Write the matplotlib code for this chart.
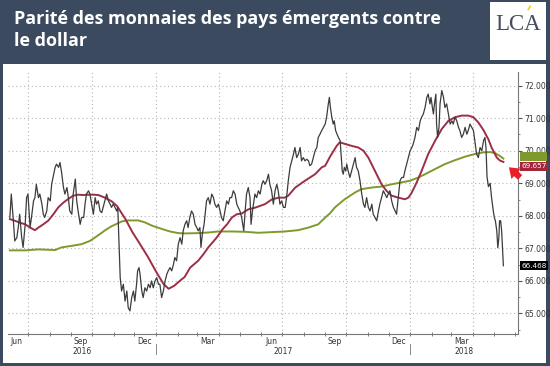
import numpy as np
import matplotlib.pyplot as plt
import matplotlib.dates as mdates
from matplotlib.patches import Rectangle
from matplotlib.transforms import blended_transform_factory
import datetime as dt

# days counted from 2016-07-01
start = dt.date(2016, 7, 1)

price_day = [-26, -24, -21, -19, -16, -14, -12, -9, -7, -4, -2, 0, 3, 5, 8, 10, 12, 15, 17, 20,
             22, 24, 27, 29, 32, 34, 36, 39, 41, 44, 46, 48, 51, 53, 56, 58, 60, 63, 65, 68,
             70, 72, 75, 77, 80, 82, 84, 87, 89,
             91.5, 94, 96.5, 98.5, 101, 103.5, 106, 108, 110.5, 113, 115.5, 118, 120, 122.5, 125,
             127.5, 129, 131, 132.5, 134.5, 137, 139.5, 142, 144, 146.5, 149, 151.5, 153.5, 156, 157.5,
             159.5, 161, 163.5, 165.5, 168, 170.5, 173, 175.5, 177.5, 180, 182.5, 185, 187.5, 189.5, 192,
             194.5, 197, 199.5, 201.5, 204,
             206.5, 209, 211, 213.5, 216, 218.5, 221, 223, 225.5, 228, 230, 232.5, 235, 237.5, 240,
             242.5, 244.5, 247, 248.5, 250.5, 253, 256.5, 259, 261.5, 264, 266.5, 268.5, 271, 273.5, 276,
             278, 280.5, 283, 285.5, 288, 290, 292.5, 295, 297.5, 300, 302, 304.5, 307, 310, 312,
             314, 316.5, 319,
             320.5, 322.5, 324, 326, 328.5, 331, 333.5, 336, 338, 340.5, 343, 345.5, 347.5, 350, 352.5,
             355, 357.5, 359.5, 362, 364.5, 367, 369.5, 371.5, 374, 376.5, 379, 381.5, 383.5, 386, 388.5,
             391, 393, 395.5, 398, 400.5, 403, 405, 407.5, 410, 412.5, 415, 417, 419.5, 422, 424.5,
             427, 429, 431.5, 433,
             434.5, 436.5, 438.5, 440, 442, 444, 446, 448.5, 449.5, 451.5, 453, 454.5, 456.5, 458, 460,
             462.5, 465, 467.5, 470, 472, 474.5, 477, 479.5, 482, 484, 486.5, 489, 491.5, 494, 496,
             498.5, 501, 503.5, 505.5, 508, 510.5, 513, 515.5, 517.5, 520, 522.5, 525, 527.5, 529.5, 532,
             534.5, 537, 539.5, 541.5, 544, 546.5, 549,
             551.5, 553.5, 556, 558.5, 561, 563.5, 565.5, 568, 570.5, 573, 575, 577.5, 579, 581, 582.5,
             584, 586, 587, 588.5, 590.5, 592, 594.5, 597, 599, 601.5, 604, 606.5, 609, 611, 613.5,
             616, 618.5, 620.5, 623, 625.5, 628, 630.5, 632.5, 635, 637.5, 640, 642.5, 644.5, 647, 649.5,
             652, 654.5, 656.5, 658, 659.5, 661.5, 664,
             666, 668.5, 670, 671.5, 673.5, 675, 676.5, 677.5, 679, 680.5, 682, 683]
price = [67.95, 68.67, 67.85, 67.23, 67.33, 67.64, 68.05, 67.33, 67.03, 67.74, 68.56, 68.67, 67.64, 67.95, 68.46,
         68.56, 68.97, 68.56, 68.67, 68.36, 68.05, 67.95, 68.15, 68.56, 68.46, 68.97, 69.18, 69.49, 69.59, 69.49,
         69.64, 69.38, 68.87, 68.67, 68.87, 68.56, 68.15, 68.05, 68.67, 69.13, 68.46, 68.15, 67.74, 67.95, 67.95,
         68.36, 68.67, 68.77, 68.67,
         68.36, 68.05, 68.56, 68.36, 68.46, 68.15, 68.10, 68.26, 68.46, 68.67, 68.46, 68.36, 68.26, 68.36, 68.26,
         68.15, 68.26, 67.0, 66.10, 65.69, 65.90, 65.38, 65.69, 65.18, 65.08, 65.49, 65.69, 65.38, 65.90, 66.31,
         66.41, 66.21, 65.69, 65.49, 65.79, 65.69, 65.90, 65.79, 66.0, 65.79, 66.0, 66.10, 65.90, 65.90, 65.49,
         65.69, 66.0, 66.21, 66.31, 66.41,
         66.31, 66.51, 66.72, 66.62, 67.13, 67.33, 67.13, 67.54, 67.74, 67.85, 67.64, 67.95, 68.15, 68.05, 67.74,
         67.64, 67.54, 67.64, 67.03, 67.44, 67.74, 68.46, 68.56, 68.36, 68.67, 68.56, 68.36, 68.26, 68.36, 68.15,
         67.95, 67.85, 68.15, 68.46, 68.36, 68.56, 68.56, 68.77, 68.67, 68.36, 68.26, 68.15, 67.95, 67.54, 68.15,
         68.67, 68.87, 68.56,
         67.74, 68.15, 68.36, 68.67, 68.56, 68.77, 68.67, 68.97, 69.08, 68.97, 69.08, 69.28, 68.97, 68.77, 68.36,
         68.77, 68.97, 68.77, 68.36, 68.46, 68.26, 68.26, 68.56, 69.08, 69.49, 69.69, 69.90, 70.10, 69.79, 69.90,
         70.10, 69.69, 69.79, 69.69, 69.74, 69.69, 69.54, 69.59, 69.79, 70.0, 70.10, 70.41, 70.51, 70.62, 70.72,
         70.82, 71.03, 71.44, 71.64,
         71.33, 71.03, 70.82, 70.92, 70.62, 70.51, 70.41, 70.31, 70.0, 69.38, 69.28, 69.49, 69.38, 69.59, 69.38,
         69.18, 69.38, 69.59, 69.79, 69.49, 69.38, 69.08, 68.67, 68.36, 68.26, 68.56, 68.26, 68.15, 68.36, 68.05,
         67.95, 67.85, 68.15, 68.36, 68.56, 68.77, 68.67, 68.56, 68.67, 68.77, 68.46, 68.26, 68.15, 68.05, 68.56,
         69.08, 69.18, 69.18, 69.38, 69.59, 69.79, 70.0,
         70.10, 70.21, 70.41, 70.72, 70.62, 70.92, 71.03, 71.13, 71.33, 71.64, 71.74, 71.44, 71.64, 71.33, 71.13,
         71.44, 71.74, 70.82, 70.41, 70.72, 71.44, 71.85, 71.64, 71.33, 71.44, 71.13, 70.82, 70.92, 70.82, 71.03,
         70.92, 70.72, 70.62, 70.41, 70.51, 70.72, 70.51, 70.62, 70.82, 70.72, 70.62, 70.21, 69.90, 69.79, 70.10,
         70.0, 70.31, 70.41, 70.10, 69.2, 68.9, 69.0,
         68.56, 68.15, 67.95, 67.85, 67.54, 67.02, 67.33, 67.85, 67.85, 67.54, 66.92, 66.468]

ma100_day = [-26, -19, -11.5, -4, 3, 10, 15, 22, 29, 36.5, 43.5, 51, 58, 65, 72, 79.5, 86.5, 94, 101,
             110.5, 120, 128, 140, 150, 161, 172, 185, 195, 202, 210, 218, 225, 233, 244.5, 252, 259,
             271, 280, 286, 293, 300, 307, 316.5, 326, 340.5, 350, 360, 369, 374, 384, 398, 412.5, 422,
             427, 434, 443.5, 448, 455.5, 465, 474.5, 482, 489, 498.5, 508, 515, 522.5, 532, 541.5, 546.5,
             551, 558.5, 565.5, 575, 585, 594.5, 604, 613.5, 623, 632.5, 640, 647, 654, 661.5, 666, 673.5,
             678, 683]
ma100 = [67.90, 67.85, 67.79, 67.74, 67.64, 67.56, 67.64, 67.74, 67.85, 68.05, 68.26, 68.41, 68.52, 68.62, 68.65,
         68.64, 68.65, 68.65, 68.64, 68.56, 68.45, 68.3, 67.9, 67.5, 67.13, 66.75, 66.25, 65.9, 65.76, 65.85,
         66.0, 66.12, 66.41, 66.62, 66.82, 67.03, 67.33, 67.6, 67.74, 67.95, 68.05, 68.07, 68.2, 68.25, 68.36,
         68.5, 68.56, 68.56, 68.62, 68.87, 69.08, 69.28, 69.49, 69.54, 69.82, 70.15, 70.26, 70.21, 70.15, 70.1,
         70.0, 69.79, 69.38, 68.97, 68.77, 68.62, 68.56, 68.51, 68.56, 68.7, 69.03, 69.38, 69.9, 70.31, 70.67,
         70.92, 71.03, 71.08, 71.08, 71.03, 70.87, 70.65, 70.35, 70.10, 69.79, 69.70, 69.657]

ma200_day = [-26, -4, 15, 39, 48, 63, 77, 89, 96, 104, 111, 120, 128, 135, 144, 158.5, 168, 178, 192, 204,
             216, 226, 245, 260, 273, 293, 312, 331, 350, 369, 388, 403, 417, 427, 434, 441, 455, 470, 479,
             494, 508, 522.5, 537, 549, 561, 570.5, 585, 599, 613.5, 628, 642, 654, 664, 671, 678, 683]
ma200 = [66.94, 66.94, 66.97, 66.95, 67.03, 67.08, 67.13, 67.23, 67.33, 67.45, 67.56, 67.68, 67.76, 67.83, 67.86,
         67.86, 67.8, 67.7, 67.6, 67.52, 67.47, 67.46, 67.47, 67.49, 67.52, 67.52, 67.51, 67.48, 67.5, 67.52,
         67.56, 67.64, 67.74, 67.95, 68.08, 68.26, 68.51, 68.72, 68.82, 68.87, 68.9, 68.97, 69.03, 69.08, 69.18,
         69.28, 69.44, 69.59, 69.71, 69.82, 69.90, 69.95, 69.96, 69.93, 69.84, 69.76]

y_ticks = [65, 66, 67, 68, 69, 70, 71, 72]
month_labels = ["Jun", "Sep", "Dec", "Mar", "Jun", "Sep", "Dec", "Mar"]
month_mid = ["2016-06-15", "2016-09-15", "2016-12-16", "2017-03-16",
             "2017-06-15", "2017-09-15", "2017-12-16", "2018-03-16"]
quarter_lines = ["2016-07-01", "2016-10-01", "2017-01-01", "2017-04-01",
                 "2017-07-01", "2017-10-01", "2018-01-01", "2018-04-01"]
year_breaks = ["2017-01-01", "2018-01-01"]
years = ["2016", "2017", "2018"]
title = "Parité des monnaies des pays émergents contre\nle dollar"

bg = "#3b4a5e"
c_price = "#3c3c3c"
c_red = "#9c2f45"
c_green = "#7e9a2c"

t0 = mdates.date2num(start)
to_num = lambda s: mdates.date2num(dt.date.fromisoformat(s))

fig = plt.figure(figsize=(5.5, 3.66), dpi=100, facecolor=bg)
W, H = 550, 366
fig.add_artist(Rectangle((3 / W, 3 / H), 543 / W, 299 / H, transform=fig.transFigure,
                         facecolor="white", edgecolor="none", zorder=0))

# logo
fig.add_artist(Rectangle((490 / W, 1 - 60 / H), 56 / W, 58 / H, transform=fig.transFigure,
                         facecolor="white", edgecolor="none", zorder=0))
fig.text(518 / W, 1 - 24 / H, "LCA", ha="center", va="center", fontsize=16.5,
         family="Liberation Serif", color="#444e5e")
fig.add_artist(Rectangle((527 / W, 1 - 10 / H), 2 / W, 5 / H, transform=fig.transFigure,
                         facecolor="#f2d21b", edgecolor="none", angle=-20))

fig.text(14 / W, 1 - 10 / H, title, ha="left", va="top", fontsize=13,
         family="Open Sans", weight="bold", color="white", linespacing=1.32)

ax = fig.add_axes([8 / W, 32 / H, 510 / W, 262 / H])
ax.set_facecolor("white")

ax.plot(t0 + np.array(ma200_day), ma200, color=c_green, lw=1.4, zorder=3)
ax.plot(t0 + np.array(ma100_day), ma100, color=c_red, lw=1.4, zorder=4)
ax.plot(t0 + np.array(price_day), price, color=c_price, lw=0.9, zorder=5)

ax.set_xlim(t0 - 28.7, t0 + 704)
ax.set_ylim(64.37, 72.42)

for q in quarter_lines:
    ax.axvline(to_num(q), color="#b5b5b5", lw=0.8, ls=(0, (1, 2.5)), zorder=1)
ax.set_yticks(y_ticks)
ax.yaxis.set_major_formatter(lambda v, p: f"{v:.3f}")
ax.set_yticks(np.arange(64.5, 72.5, 0.5), minor=True)
ax.grid(axis="y", which="major", color="#b5b5b5", lw=0.8, ls=(0, (1, 2.5)), zorder=1)
ax.yaxis.tick_right()
ax.tick_params(axis="y", which="major", labelsize=5.5, labelcolor="#333333", length=3,
               width=0.8, color="#555555", pad=1.5)
ax.tick_params(axis="y", which="minor", length=1.5, width=0.6, color="#777777")

ax.xaxis.set_major_locator(mdates.MonthLocator())
ax.xaxis.set_major_formatter(plt.NullFormatter())
ax.set_xticks([to_num(m) for m in month_mid], labels=month_labels, minor=True)
ax.tick_params(axis="x", which="major", length=2.5, direction="inout", width=0.6, color="#666666")
ax.tick_params(axis="x", which="minor", length=0, labelsize=5.5, labelcolor="#333333", pad=2)

for s in ["left", "top"]:
    ax.spines[s].set_visible(False)
for s in ["bottom", "right"]:
    ax.spines[s].set_color("#777777")
    ax.spines[s].set_linewidth(0.8)

trans = blended_transform_factory(ax.transData, ax.transAxes)
xl = ax.get_xlim()
bounds = [xl[0]] + [to_num(y) for y in year_breaks] + [xl[1]]
for yb in year_breaks:
    ax.plot([to_num(yb)] * 2, [-0.04, -0.075], transform=trans, color="#888888", lw=0.7,
            clip_on=False)
for i, yr in enumerate(years):
    ax.text((bounds[i] + bounds[i + 1]) / 2, -0.066, yr, transform=trans, ha="center",
            va="center", fontsize=5.5, color="#333333")

# last value tags: the green one is hidden under the red one, only its edge shows
tag_x = blended_transform_factory(ax.transAxes, ax.transData)
ax.add_patch(Rectangle((1.004, ma200[-1] - 0.06), 0.052, 0.27, transform=tag_x,
                       facecolor=c_green, edgecolor="none", clip_on=False, zorder=9))
for val, col, txt, dy in [(ma100[-1], "#a3263a", "69.657", -3), (price[-1], "black", "66.468", 0)]:
    ax.annotate(txt, xy=(1.0, val), xycoords=("axes fraction", "data"),
                xytext=(2.5, dy), textcoords="offset points", ha="left", va="center",
                fontsize=5.2, color="white", annotation_clip=False, zorder=10,
                bbox=dict(boxstyle="square,pad=0.2", fc=col, ec="none"))

ax.annotate("", xy=(t0 + 688, 69.55), xytext=(11, -10), textcoords="offset points",
            arrowprops=dict(arrowstyle="simple,head_length=0.7,head_width=1.0,tail_width=0.45",
                            color="#e8202a", lw=0),
            annotation_clip=False, zorder=11)

fig.savefig("out.png", dpi=100, facecolor=bg)
